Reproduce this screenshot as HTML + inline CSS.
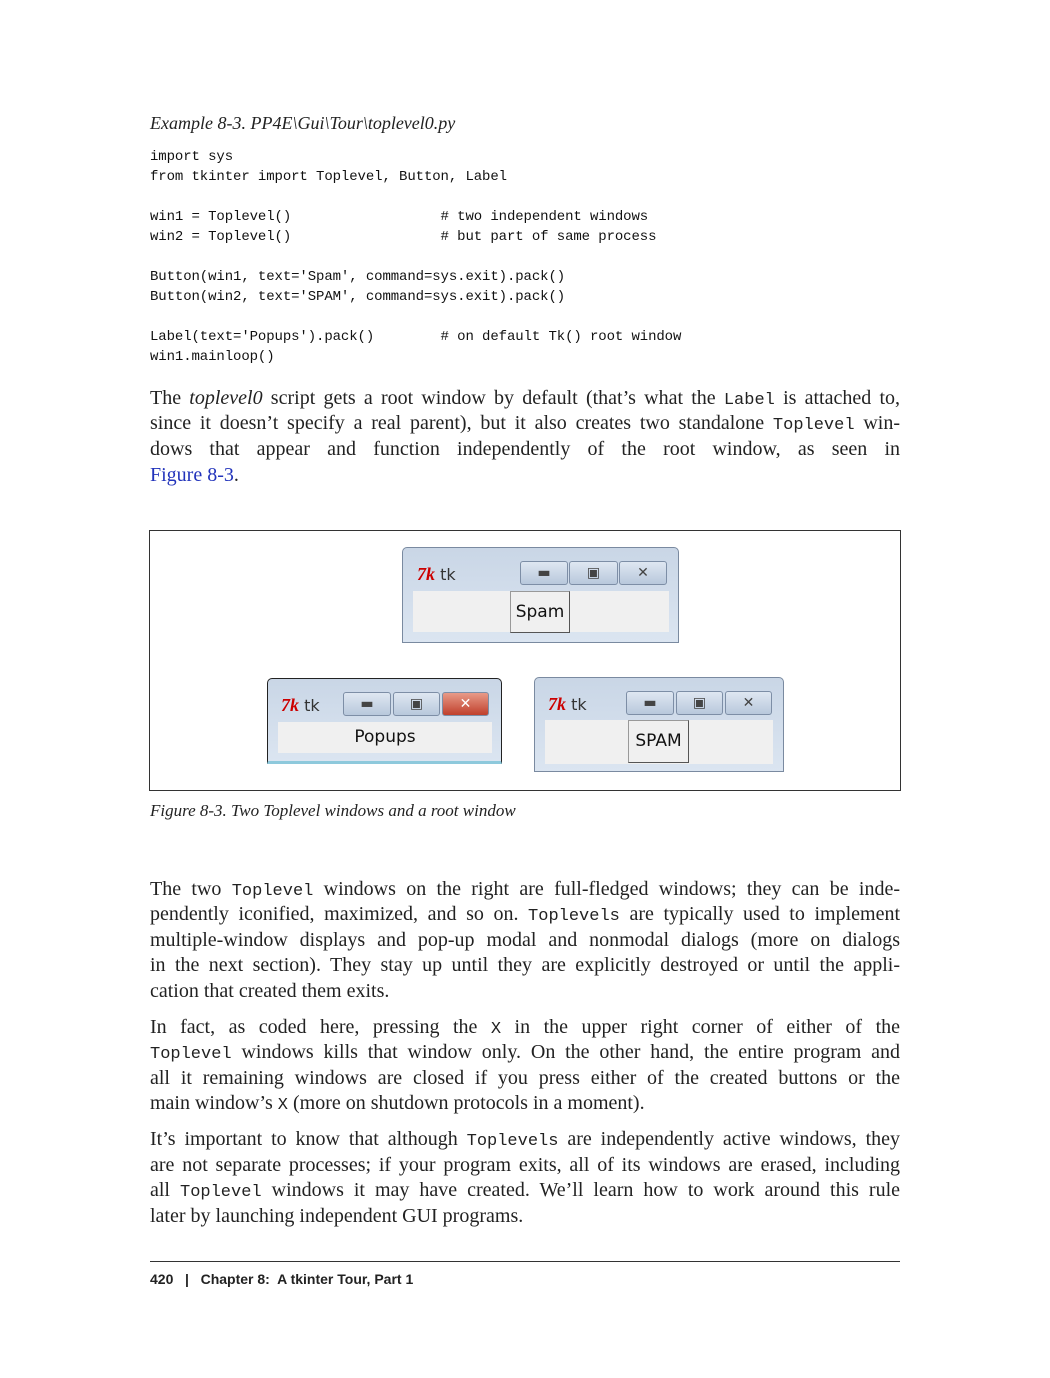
<!DOCTYPE html>
<html><head><meta charset="utf-8"><style>
body{margin:0;width:1050px;height:1378px;background:#fff;position:relative;font-family:"Liberation Serif",serif;color:#222}
.l{position:absolute;left:150px;width:750px;font-size:20px;line-height:25px;white-space:nowrap}
.j{text-align:justify;text-align-last:justify}
.c{position:absolute;font-family:"Liberation Mono",monospace;font-size:14px;line-height:20px;white-space:pre;color:#111;letter-spacing:-0.1px}
code{font-family:"Liberation Mono",monospace;font-size:17px}
.win{position:absolute;border:1px solid #7a8aa0;border-radius:5px 5px 0 0;background:linear-gradient(#c9d6e6,#dbe5f1)}
.cl{position:absolute;background:#f0f0f0}
.btn{position:absolute;background:#f0f0f0;border:1px solid #999;border-right-color:#555;border-bottom-color:#555;font-family:"DejaVu Sans",sans-serif;font-size:17px;text-align:center;color:#111}
.tb{position:absolute;height:22px;border:1px solid #7d8ea6;border-radius:3px;background:linear-gradient(#dfe7f2,#b8c8dc);font-family:"DejaVu Sans",sans-serif;font-size:14px;text-align:center;line-height:22px;color:#444}
.tk{position:absolute;font-family:"DejaVu Sans",sans-serif;font-size:16px;color:#333}
.tk b{color:#c00;font-style:italic;font-family:"Liberation Serif",serif;font-size:18px}
</style></head><body>
<div class="l" style="top:111px;font-style:italic;font-size:18px">Example 8-3. PP4E\Gui\Tour\toplevel0.py</div>
<div class="c" style="left:150px;top:147px">import sys
from tkinter import Toplevel, Button, Label

win1 = Toplevel()                  # two independent windows
win2 = Toplevel()                  # but part of same process

Button(win1, text='Spam', command=sys.exit).pack()
Button(win2, text='SPAM', command=sys.exit).pack()

Label(text='Popups').pack()        # on default Tk() root window
win1.mainloop()</div>

<div class="l j" style="top:386px">The <i>toplevel0</i> script gets a root window by default (that’s what the <code>Label</code> is attached to,</div>
<div class="l j" style="top:411px">since it doesn’t specify a real parent), but it also creates two standalone <code>Toplevel</code> win-</div>
<div class="l j" style="top:437px">dows that appear and function independently of the root window, as seen in</div>
<div class="l" style="top:463px"><span style="color:#2233bb">Figure 8-3</span>.</div>

<div style="position:absolute;left:149px;top:530px;width:750px;height:259px;border:1px solid #333"></div>

<div class="win" style="left:402px;top:547px;width:275px;height:94px">
<div class="tk" style="left:14px;top:16px"><b>7k</b> tk</div>
<div class="tb" style="left:117px;top:13px;width:46px">▬</div>
<div class="tb" style="left:166px;top:13px;width:47px">▣</div>
<div class="tb" style="left:216px;top:13px;width:46px">✕</div>
<div class="cl" style="left:10px;top:43px;width:256px;height:41px"></div>
<div class="btn" style="left:107px;top:43px;width:58px;height:40px;line-height:40px">Spam</div>
</div>

<div class="win" style="left:267px;top:678px;width:233px;height:82px;border-color:#222;border-bottom:3px solid #8ec9dc">
<div class="tk" style="left:13px;top:16px"><b>7k</b> tk</div>
<div class="tb" style="left:75px;top:13px;width:46px">▬</div>
<div class="tb" style="left:125px;top:13px;width:45px">▣</div>
<div class="tb" style="left:174px;top:13px;width:45px;background:linear-gradient(#e89a88,#c0402c);color:#fff;font-weight:bold">✕</div>
<div class="cl" style="left:10px;top:43px;width:214px;height:31px;font-family:'DejaVu Sans',sans-serif;font-size:17px;text-align:center;line-height:31px;color:#111">Popups</div>
</div>

<div class="win" style="left:534px;top:677px;width:248px;height:93px">
<div class="tk" style="left:13px;top:16px"><b>7k</b> tk</div>
<div class="tb" style="left:91px;top:13px;width:46px">▬</div>
<div class="tb" style="left:141px;top:13px;width:45px">▣</div>
<div class="tb" style="left:190px;top:13px;width:45px">✕</div>
<div class="cl" style="left:10px;top:42px;width:228px;height:44px"></div>
<div class="btn" style="left:93px;top:42px;width:59px;height:41px;line-height:41px">SPAM</div>
</div>

<div class="l" style="top:798px;font-style:italic;font-size:17px">Figure 8-3. Two Toplevel windows and a root window</div>

<div class="l j" style="top:877px">The two <code>Toplevel</code> windows on the right are full-fledged windows; they can be inde-</div>
<div class="l j" style="top:902px">pendently iconified, maximized, and so on. <code>Toplevels</code> are typically used to implement</div>
<div class="l j" style="top:928px">multiple-window displays and pop-up modal and nonmodal dialogs (more on dialogs</div>
<div class="l j" style="top:953px">in the next section). They stay up until they are explicitly destroyed or until the appli-</div>
<div class="l" style="top:979px">cation that created them exits.</div>

<div class="l j" style="top:1015px">In fact, as coded here, pressing the <code>X</code> in the upper right corner of either of the</div>
<div class="l j" style="top:1040px"><code>Toplevel</code> windows kills that window only. On the other hand, the entire program and</div>
<div class="l j" style="top:1066px">all it remaining windows are closed if you press either of the created buttons or the</div>
<div class="l" style="top:1091px">main window’s <code>X</code> (more on shutdown protocols in a moment).</div>

<div class="l j" style="top:1127px">It’s important to know that although <code>Toplevels</code> are independently active windows, they</div>
<div class="l j" style="top:1153px">are not separate processes; if your program exits, all of its windows are erased, including</div>
<div class="l j" style="top:1178px">all <code>Toplevel</code> windows it may have created. We’ll learn how to work around this rule</div>
<div class="l" style="top:1204px">later by launching independent GUI programs.</div>

<div style="position:absolute;left:150px;top:1261px;width:750px;border-top:1px solid #333"></div>
<div style="position:absolute;left:150px;top:1271px;font-family:'Liberation Sans',sans-serif;font-weight:bold;font-size:14px;white-space:pre">420   |   Chapter 8:  A tkinter Tour, Part 1</div>
</body></html>
